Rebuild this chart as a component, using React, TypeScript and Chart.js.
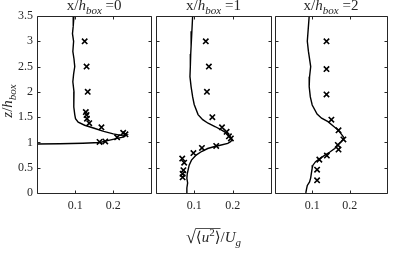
import { useEffect, useRef } from "react";
import { Chart, registerables } from "chart.js";
Chart.register(...registerables);

// ---- tick values ----
const yTickValues = [0, 0.5, 1, 1.5, 2, 2.5, 3, 3.5];
const xTickValues = [0.1, 0.2];
const panelValues = ["0", "1", "2"];

// ---- panel x/h_box = 0 ----
const sim0U = [0.097, 0.095, 0.093, 0.096, 0.094, 0.097, 0.099, 0.096, 0.094, 0.097, 0.096, 0.097, 0.099, 0.101, 0.108, 0.125, 0.15, 0.175, 0.2, 0.22, 0.235, 0.228, 0.205, 0.182, 0.165, 0.12, 0.06, 0.0, 0.0];
const sim0Z = [3.5, 3.3, 3.15, 3.0, 2.8, 2.65, 2.5, 2.35, 2.2, 2.0, 1.85, 1.7, 1.55, 1.47, 1.4, 1.34, 1.28, 1.22, 1.17, 1.14, 1.15, 1.11, 1.07, 1.03, 1.0, 0.985, 0.975, 0.97, 0.0];
const exp0U = [0.125, 0.13, 0.133, 0.128, 0.13, 0.131, 0.137, 0.169, 0.232, 0.226, 0.21, 0.179, 0.164];
const exp0Z = [3.0, 2.5, 2.0, 1.6, 1.54, 1.47, 1.38, 1.3, 1.16, 1.19, 1.1, 1.02, 1.01];

// ---- panel x/h_box = 1 ----
const sim1U = [0.096, 0.094, 0.092, 0.091, 0.09, 0.089, 0.092, 0.096, 0.1, 0.11, 0.122, 0.136, 0.155, 0.17, 0.183, 0.192, 0.198, 0.195, 0.187, 0.17, 0.153, 0.135, 0.119, 0.105, 0.093, 0.087, 0.085, 0.082, 0.081, 0.083, 0.081, 0.081];
const sim1Z = [3.5, 3.2, 2.9, 2.75, 2.5, 2.3, 2.1, 1.9, 1.75, 1.55, 1.45, 1.38, 1.31, 1.25, 1.19, 1.13, 1.06, 1.02, 0.98, 0.95, 0.92, 0.88, 0.82, 0.75, 0.65, 0.55, 0.48, 0.38, 0.29, 0.2, 0.1, 0.0];
const exp1U = [0.13, 0.138, 0.133, 0.147, 0.172, 0.184, 0.19, 0.195, 0.157, 0.12, 0.098, 0.069, 0.074, 0.072, 0.07, 0.07];
const exp1Z = [3.0, 2.5, 2.0, 1.5, 1.3, 1.21, 1.12, 1.08, 0.93, 0.89, 0.79, 0.68, 0.6, 0.45, 0.38, 0.31];

// ---- panel x/h_box = 2 ----
const sim2U = [0.092, 0.09, 0.087, 0.09, 0.096, 0.093, 0.092, 0.095, 0.1, 0.113, 0.125, 0.142, 0.155, 0.168, 0.177, 0.185, 0.178, 0.17, 0.16, 0.147, 0.134, 0.12, 0.109, 0.102, 0.1, 0.098, 0.096, 0.093, 0.087, 0.085, 0.083];
const sim2Z = [3.5, 3.3, 3.0, 2.8, 2.5, 2.3, 2.1, 1.9, 1.74, 1.56, 1.48, 1.41, 1.33, 1.25, 1.17, 1.09, 1.02, 0.96, 0.88, 0.81, 0.75, 0.68, 0.62, 0.55, 0.49, 0.4, 0.3, 0.22, 0.15, 0.08, 0.0];
const exp2U = [0.138, 0.138, 0.138, 0.151, 0.17, 0.183, 0.168, 0.17, 0.139, 0.119, 0.113, 0.113];
const exp2Z = [3.0, 2.45, 1.95, 1.45, 1.24, 1.06, 0.95, 0.86, 0.74, 0.66, 0.46, 0.25];

const SIM_U = [sim0U, sim1U, sim2U];
const SIM_Z = [sim0Z, sim1Z, sim2Z];
const EXP_U = [exp0U, exp1U, exp2U];
const EXP_Z = [exp0Z, exp1Z, exp2Z];

const FAM = "'Liberation Serif', 'DejaVu Serif', serif";
const INK = "#262626";

type Seg = { t: string; it?: boolean; sub?: boolean; sup?: boolean };

function segFont(s: Seg, size: number) {
  const sz = s.sub || s.sup ? Math.round(size * 0.72) : size;
  return `${s.it ? "italic " : ""}${sz}px ${FAM}`;
}

function drawRich(ctx: CanvasRenderingContext2D, segs: Seg[], cx: number, cy: number, size: number) {
  let total = 0;
  const widths = segs.map((s) => {
    ctx.font = segFont(s, size);
    const w = ctx.measureText(s.t).width;
    total += w;
    return w;
  });
  let x = cx - total / 2;
  const base = cy + size * 0.33;
  ctx.textBaseline = "alphabetic";
  ctx.textAlign = "left";
  segs.forEach((s, i) => {
    ctx.font = segFont(s, size);
    const y = base + (s.sub ? size * 0.28 : s.sup ? -size * 0.38 : 0);
    ctx.fillText(s.t, x, y);
    x += widths[i];
  });
}

function drawXTitle(ctx: CanvasRenderingContext2D, cx: number, cy: number, size: number) {
  const base = cy + size * 0.33;
  const f = `${size}px ${FAM}`;
  const fi = `italic ${size}px ${FAM}`;
  const fs = `${Math.round(size * 0.72)}px ${FAM}`;
  const fsi = `italic ${Math.round(size * 0.72)}px ${FAM}`;
  const parts: { t: string; f: string; dy: number }[] = [
    { t: "\u221A", f: `${size + 3}px ${FAM}`, dy: 1 },
    { t: "\u27E8", f, dy: 0 },
    { t: "u", f: fi, dy: 0 },
    { t: "2", f: fs, dy: -size * 0.38 },
    { t: "\u27E9", f, dy: 0 },
    { t: "/", f, dy: 0 },
    { t: "U", f: fi, dy: 0 },
    { t: "g", f: fsi, dy: size * 0.28 },
  ];
  let total = 0;
  const ws = parts.map((p) => {
    ctx.font = p.f;
    const w = ctx.measureText(p.t).width;
    total += w;
    return w;
  });
  let x = cx - total / 2;
  ctx.textBaseline = "alphabetic";
  ctx.textAlign = "left";
  let barStart = 0;
  let barEnd = 0;
  parts.forEach((p, i) => {
    ctx.font = p.f;
    ctx.fillText(p.t, x, base + p.dy);
    if (i === 0) barStart = x + ws[i] - 0.5;
    x += ws[i];
    if (i === 4) barEnd = x;
  });
  ctx.beginPath();
  ctx.lineWidth = 0.8;
  ctx.strokeStyle = INK;
  const by = Math.round(base - size * 0.95) + 0.5;
  ctx.moveTo(barStart, by);
  ctx.lineTo(barEnd, by);
  ctx.stroke();
}

const framePlugin = {
  id: "frameAndText",
  afterDraw(chart: any) {
    const { ctx, chartArea: a, scales } = chart;
    const opts = chart.options.plugins.frameAndText;
    ctx.save();
    ctx.strokeStyle = INK;
    ctx.lineWidth = 1;
    const L = Math.round(a.left) + 0.5;
    const R = Math.round(a.right) + 0.5;
    const T = Math.round(a.top) + 0.5;
    const B = Math.round(a.bottom) + 0.5;
    ctx.beginPath();
    ctx.rect(L, T, R - L, B - T);
    const tl = 3;
    yTickValues.forEach((v) => {
      const py = Math.round(scales.y.getPixelForValue(v)) + 0.5;
      ctx.moveTo(L, py);
      ctx.lineTo(L + tl, py);
      ctx.moveTo(R, py);
      ctx.lineTo(R - tl, py);
    });
    xTickValues.forEach((v) => {
      const px = Math.round(scales.x.getPixelForValue(v)) + 0.5;
      ctx.moveTo(px, B);
      ctx.lineTo(px, B - tl);
      ctx.moveTo(px, T);
      ctx.lineTo(px, T + tl);
    });
    ctx.stroke();

    ctx.fillStyle = INK;
    const cx = (a.left + a.right) / 2;
    drawRich(
      ctx,
      [
        { t: "x/" },
        { t: "h", it: true },
        { t: "box", it: true, sub: true },
        { t: " =" + opts.value },
      ],
      cx,
      5,
      15
    );
    if (opts.yTitle) {
      ctx.save();
      ctx.translate(7, 101);
      ctx.rotate(-Math.PI / 2);
      drawRich(
        ctx,
        [
          { t: "z", it: true },
          { t: "/" },
          { t: "h", it: true },
          { t: "box", it: true, sub: true },
        ],
        0,
        0,
        15
      );
      ctx.restore();
    }
    if (opts.xTitle) {
      drawXTitle(ctx, cx, 237, 15);
    }
    ctx.restore();
  },
};

const PANELS = [
  { left: 0, width: 157, padL: 0, padR: 2, yWidth: 37, showY: true },
  { left: 150, width: 127, padL: 5, padR: 3, yWidth: 0, showY: false },
  { left: 269, width: 124, padL: 5, padR: 1, yWidth: 0, showY: false },
];

export default function App() {
  const refs = [useRef<HTMLCanvasElement>(null), useRef<HTMLCanvasElement>(null), useRef<HTMLCanvasElement>(null)];

  useEffect(() => {
    const charts: Chart[] = [];
    PANELS.forEach((p, i) => {
      const cv = refs[i].current;
      if (!cv) return;
      const sim = SIM_U[i].map((u, k) => ({ x: u, y: SIM_Z[i][k] }));
      const exp = EXP_U[i].map((u, k) => ({ x: u, y: EXP_Z[i][k] }));
      const chart = new Chart(cv, {
        type: "scatter",
        data: {
          datasets: [
            {
              data: sim,
              showLine: true,
              borderColor: "#000",
              borderWidth: 1.4,
              pointRadius: 0,
              tension: 0,
              fill: false,
            },
            {
              data: exp,
              showLine: false,
              pointStyle: "crossRot",
              pointRadius: 3.8,
              pointBorderWidth: 1.6,
              borderColor: "#000",
              backgroundColor: "#000",
            },
          ],
        },
        options: {
          animation: false,
          responsive: false,
          events: [],
          layout: { padding: { left: p.padL, right: p.padR, top: 16, bottom: 0 } },
          plugins: {
            legend: { display: false },
            tooltip: { enabled: false },
            title: { display: false },
            frameAndText: { value: panelValues[i], yTitle: p.showY, xTitle: i === 1 },
          } as any,
          scales: {
            x: {
              type: "linear",
              min: 0,
              max: 0.3,
              grid: { display: false, drawTicks: false },
              border: { display: false },
              afterBuildTicks: (s: any) => {
                s.ticks = xTickValues.map((v) => ({ value: v }));
              },
              afterFit: (s: any) => {
                s.height = 71;
              },
              ticks: {
                padding: 6,
                color: INK,
                font: { family: FAM, size: 12 },
                maxRotation: 0,
                callback: (v: any) => String(v),
              },
            },
            y: {
              type: "linear",
              min: 0,
              max: 3.5,
              grid: { display: false, drawTicks: false },
              border: { display: false },
              afterBuildTicks: (s: any) => {
                s.ticks = yTickValues.map((v) => ({ value: v }));
              },
              afterFit: (s: any) => {
                s.width = p.yWidth;
              },
              ticks: {
                display: p.showY,
                padding: 4,
                color: INK,
                font: { family: FAM, size: 12 },
                callback: (v: any) => String(v),
              },
            },
          },
        },
        plugins: [framePlugin],
      } as any);
      charts.push(chart);
    });
    return () => charts.forEach((c) => c.destroy());
  }, []);

  return (
    <div
      style={{
        position: "absolute",
        left: 0,
        top: 0,
        width: 393,
        height: 264,
        background: "#fff",
        overflow: "hidden",
      }}
    >
      {PANELS.map((p, i) => (
        <canvas
          key={i}
          ref={refs[i]}
          width={p.width}
          height={264}
          style={{ position: "absolute", left: p.left, top: 0, width: p.width, height: 264 }}
        />
      ))}
    </div>
  );
}
